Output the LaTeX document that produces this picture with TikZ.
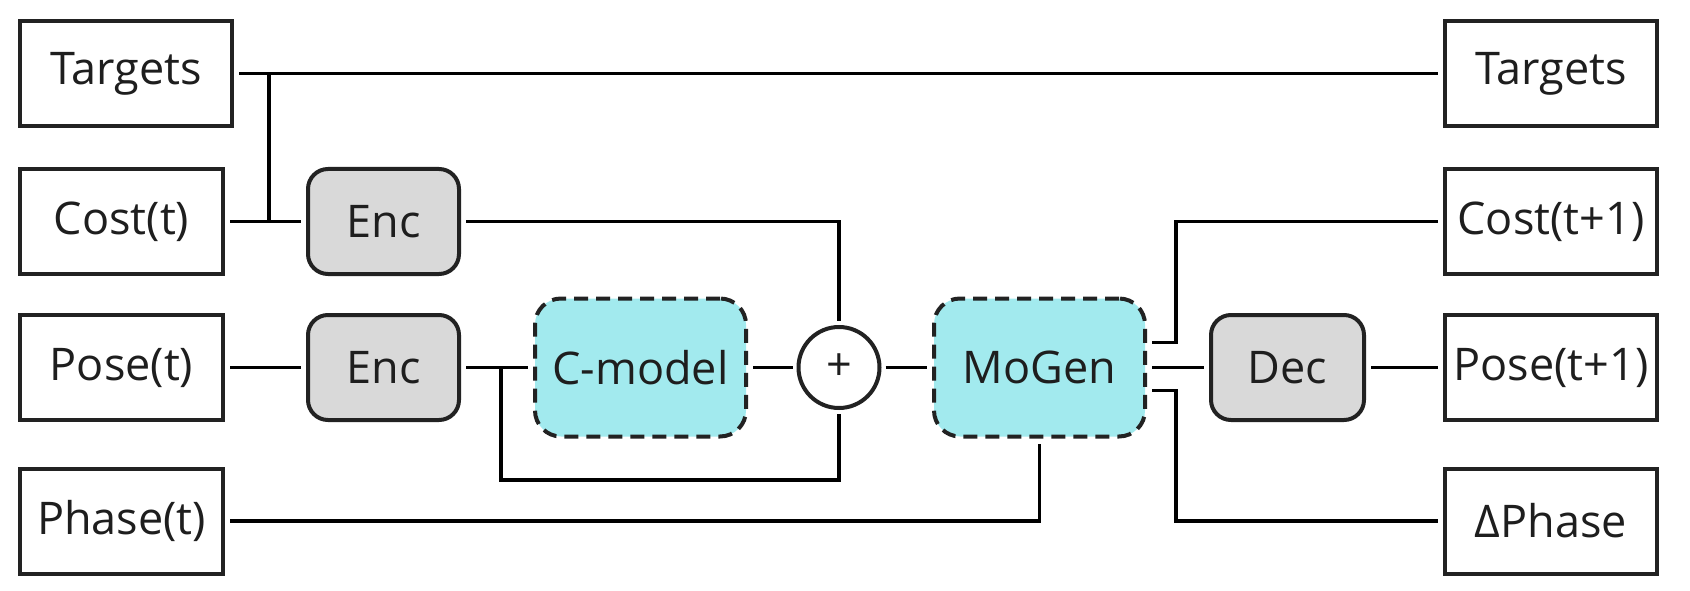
\documentclass[tikz,border=0pt]{standalone}
\usepackage{fontspec}
\setmainfont{Open Sans}
\definecolor{bordc}{HTML}{222222}
\definecolor{greyfill}{HTML}{D9D9D9}
\definecolor{cyanfill}{HTML}{A2EAEE}
\definecolor{textc}{HTML}{1E1E1E}
\begin{document}
\begin{tikzpicture}[x=1pt,y=-1pt,
  every node/.style={font=\fontsize{45}{52}\selectfont, text=textc, inner sep=0pt},
  iobox/.style={draw=bordc, line width=4pt, fill=white, rectangle, minimum width=203pt, minimum height=105pt, outer sep=7pt},
  wideio/.style={iobox, minimum width=212pt},
  codec/.style={draw=bordc, line width=4pt, fill=greyfill, rectangle, rounded corners=20pt, minimum width=151pt, minimum height=105pt, outer sep=7pt},
  netbox/.style={draw=bordc, line width=4pt, fill=cyanfill, rectangle, rounded corners=26pt, dash pattern=on 14pt off 8pt, minimum width=211pt, minimum height=138pt, outer sep=7pt},
  sumnode/.style={draw=bordc, line width=4pt, fill=white, circle, minimum size=81pt, outer sep=6pt},
  conn/.style={draw=black, line width=3.6pt}
]
\useasboundingbox (0,0) rectangle (1690,591);

% left column
\node[wideio] (tL) at (126,73.5) {Targets};
\node[iobox] (cL) at (121.5,221.5) {Cost(t)};
\node[iobox] (pL) at (121.5,367.5) {Pose(t)};
\node[iobox] (phL) at (121.5,521) {Phase(t)};

% encoders
\node[codec] (enc1) at (383.5,221.5) {Enc};
\node[codec] (enc2) at (383.5,367.5) {Enc};

% middle
\node[netbox] (cm) at (640.5,367.5) {C-model};
\node[sumnode] (plus) at (839,367.5) {+};
\node[netbox] (mg) at (1039.5,367.5) {MoGen};
\node[codec, minimum width=153pt] (dec) at (1287.5,367.5) {Dec};

% right column
\node[wideio] (tR) at (1551,73.5) {Targets};
\node[wideio] (cR) at (1551,221.5) {Cost(t+1)};
\node[wideio] (pR) at (1551,367.5) {Pose(t+1)};
\node[wideio] (dR) at (1551,521) {ΔPhase};

% junction coordinates
\coordinate (j1) at (269,73.5);
\coordinate (b1) at (501,367.5);
\coordinate (b2) at (501,480);
\coordinate (k) at (1176,0);

% connectors
\draw[conn] (tL.east) -- (tR.west);
\draw[conn] (cL.east) -- (enc1.west);
\draw[conn] (j1) -- (j1 |- cL.east);
\draw[conn] (enc1.east) -| (plus.north);
\draw[conn] (pL.east) -- (enc2.west);
\draw[conn] (enc2.east) -- (cm.west);
\draw[conn] (b1) -- (b2) -| (plus.south);
\draw[conn] (cm.east) -- (plus.west);
\draw[conn] (plus.east) -- (mg.west);
\draw[conn] (phL.east) -| (mg.south);
\draw[conn] ([yshift=25pt]mg.east) -| (k |- cR.west) -- (cR.west);
\draw[conn] (mg.east) -- (dec.west);
\draw[conn] ([yshift=-23pt]mg.east) -| (k |- dR.west) -- (dR.west);
\draw[conn] (dec.east) -- (pR.west);
\end{tikzpicture}
\end{document}
